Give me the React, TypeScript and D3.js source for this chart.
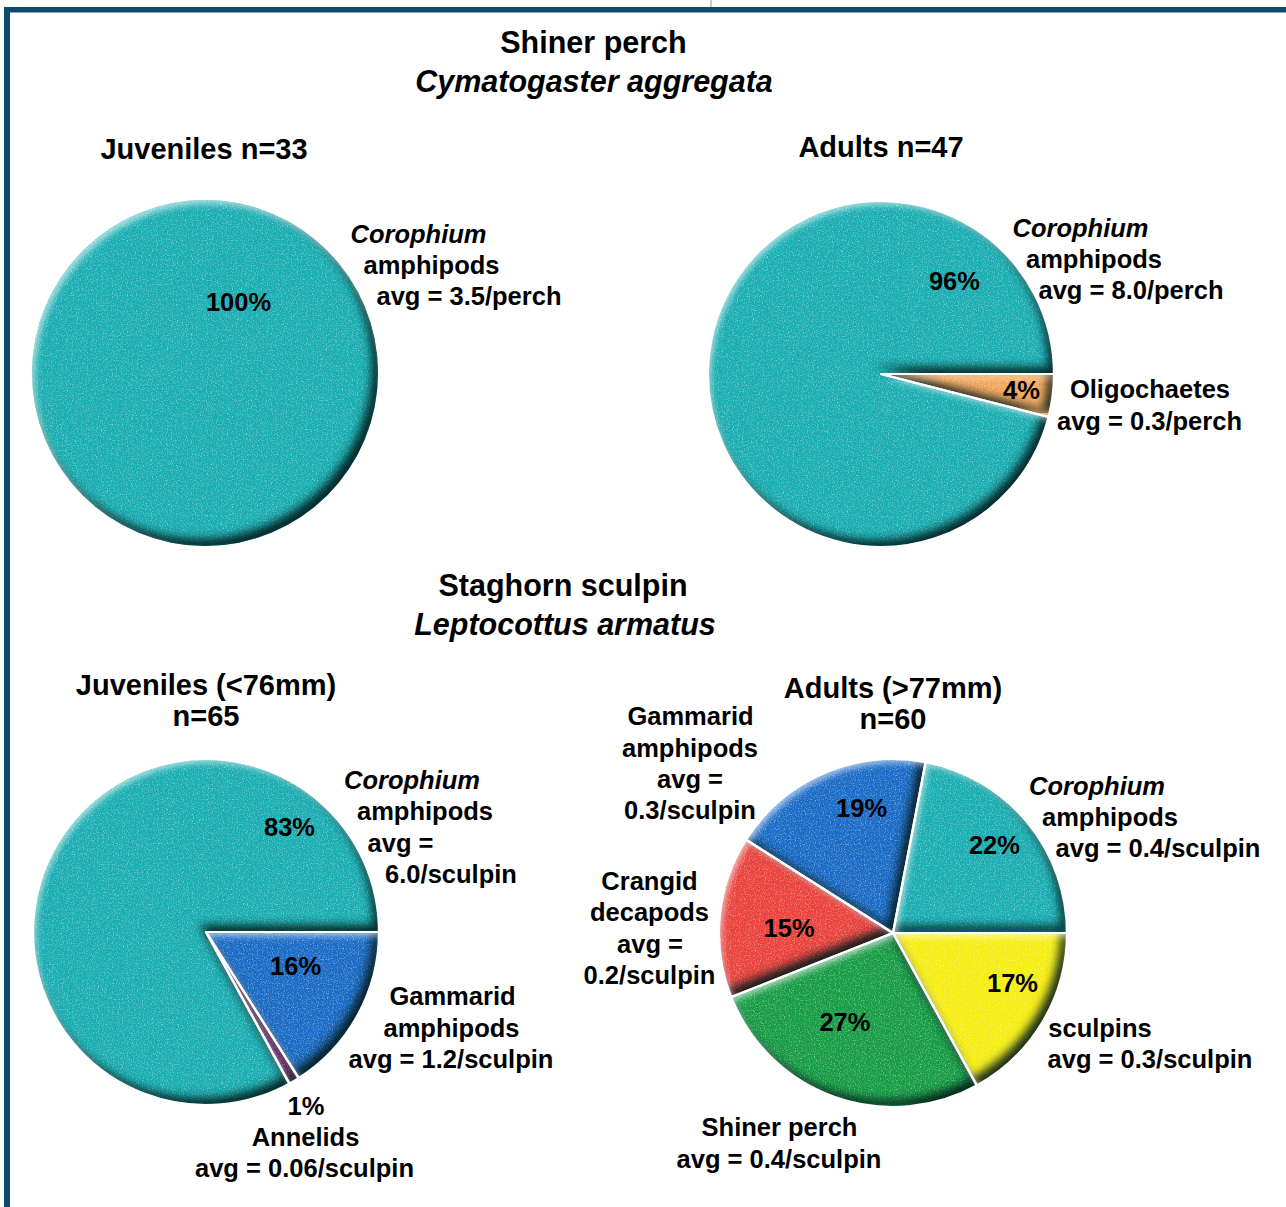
import React from "react";
import * as d3 from "d3";

// ---------- DATA ----------
const perchJuvCategories = ["Corophium amphipods"];
const perchJuvValues = [100];
const perchJuvAvg = ["3.5/perch"];

const perchAdultCategories = ["Oligochaetes", "Corophium amphipods"];
const perchAdultValues = [4, 96];
const perchAdultAvg = ["0.3/perch", "8.0/perch"];

const sculpinJuvCategories = ["Gammarid amphipods", "Annelids", "Corophium amphipods"];
const sculpinJuvValues = [16, 1, 83];
const sculpinJuvAvg = ["1.2/sculpin", "0.06/sculpin", "6.0/sculpin"];

const sculpinAdultCategories = ["sculpins", "Shiner perch", "Crangid decapods", "Gammarid amphipods", "Corophium amphipods"];
const sculpinAdultValues = [17, 27, 15, 19, 22];
const sculpinAdultAvg = ["0.3/sculpin", "0.4/sculpin", "0.2/sculpin", "0.3/sculpin", "0.4/sculpin"];

const italicWords = ["Corophium"];

// ---------- STYLE ----------
const colorByGroup: Record<string, string> = {
  Corophium: "#19adb1",
  Oligochaetes: "#f4a65a",
  Gammarid: "#1a6bc6",
  Annelids: "#7d1c74",
  sculpins: "#f6ee12",
  Shiner: "#179c45",
  Crangid: "#ea423c",
};
const FONT = "'Liberation Sans', Arial, Helvetica, sans-serif";
const LABEL_SIZE = 25.5;
const FRAME = "#0e4a6c";

// ---------- LAYOUT ----------
type LabelSpec = { idx: number; lines: string[]; pos: [number, number][] };

const charts = [
  {
    cx: 205, cy: 373, r: 173,
    categories: perchJuvCategories, values: perchJuvValues, avg: perchJuvAvg,
    title: ["Juveniles n=33"], titlePos: [[204, 159]] as [number, number][],
    pctNudge: [[153.5, -71]],
    labels: [{ idx: 0, lines: ["w0", "w1", "avgFull"], pos: [[418.5, 243], [431.5, 274], [469, 305]] }] as LabelSpec[],
  },
  {
    cx: 881, cy: 374, r: 173,
    categories: perchAdultCategories, values: perchAdultValues, avg: perchAdultAvg,
    title: ["Adults n=47"], titlePos: [[881, 157]] as [number, number][],
    pctNudge: [[21.5, 1], [192.5, -78]],
    labels: [
      { idx: 1, lines: ["w0", "w1", "avgFull"], pos: [[1080.5, 237], [1094, 268], [1131, 299]] },
      { idx: 0, lines: ["w0", "avgFull"], pos: [[1150, 398], [1149.5, 430]] },
    ] as LabelSpec[],
  },
  {
    cx: 206, cy: 932, r: 173,
    categories: sculpinJuvCategories, values: sculpinJuvValues, avg: sculpinJuvAvg,
    title: ["Juveniles (<76mm)", "n=65"], titlePos: [[206, 695], [206, 726]] as [number, number][],
    pctNudge: [[-15.6, -23.8], [38.9, 70.7], [186.8, -43.9]],
    labels: [
      { idx: 2, lines: ["w0", "w1", "avgEq", "avgVal"], pos: [[412, 789], [425, 820], [400.5, 852], [451, 883]] },
      { idx: 0, lines: ["w0", "w1", "avgFull"], pos: [[452.5, 1005], [451.5, 1037], [451, 1068]] },
      { idx: 1, lines: ["w0", "avgFull"], pos: [[305.5, 1146], [304.5, 1177]] },
    ] as LabelSpec[],
  },
  {
    cx: 893, cy: 933, r: 174,
    categories: sculpinAdultCategories, values: sculpinAdultValues, avg: sculpinAdultAvg,
    title: ["Adults (>77mm)", "n=60"], titlePos: [[893, 698], [893, 729]] as [number, number][],
    pctNudge: [[16.2, -11.1], [-7.4, -23.9], [15.5, 6.3], [16.2, -14.8], [9, -11.5]],
    labels: [
      { idx: 3, lines: ["w0", "w1", "avgEq", "avgVal"], pos: [[690.5, 725], [690, 757], [690, 788], [690, 819]] },
      { idx: 4, lines: ["w0", "w1", "avgFull"], pos: [[1097, 795], [1110, 826], [1158, 857]] },
      { idx: 2, lines: ["w0", "w1", "avgEq", "avgVal"], pos: [[649.5, 890], [649.5, 921], [650, 953], [649.5, 984]] },
      { idx: 0, lines: ["w0", "avgFull"], pos: [[1100, 1037], [1150, 1068]] },
      { idx: 1, lines: ["wAll", "avgFull"], pos: [[779.5, 1136], [779, 1168]] },
    ] as LabelSpec[],
  },
];

function lineText(mode: string, cat: string, avg: string): string {
  const words = cat.split(" ");
  if (mode === "w0") return words[0];
  if (mode === "w1") return words.slice(1).join(" ");
  if (mode === "wAll") return cat;
  if (mode === "avgFull") return `avg = ${avg}`;
  if (mode === "avgEq") return "avg =";
  if (mode === "avgVal") return avg;
  return "";
}

function Pie({ chart }: { chart: (typeof charts)[number] }) {
  const pie = d3
    .pie<number>()
    .sort(null)
    .startAngle(Math.PI / 2)
    .endAngle(Math.PI / 2 + 2 * Math.PI);
  const arcs = pie(chart.values);
  const arc = d3.arc<d3.PieArcDatum<number>>().innerRadius(0).outerRadius(chart.r);
  const labelArc = d3.arc<d3.PieArcDatum<number>>().innerRadius(120).outerRadius(120);
  const colorOf = (c: string) => colorByGroup[c.split(" ")[0]];
  return (
    <g>
      {chart.title.map((t, i) => (
        <text key={"t" + i} x={chart.titlePos[i][0]} y={chart.titlePos[i][1]} textAnchor="middle"
          fontSize={29} fontWeight="bold" fontFamily={FONT}>{t}</text>
      ))}
      <g transform={`translate(${chart.cx},${chart.cy})`}>
        {arcs.map((a, i) => (
          <path key={"s" + i} d={arc(a) || ""} fill={colorOf(chart.categories[i])} filter="url(#bevel)" />
        ))}
        {arcs.length > 1 &&
          arcs.map((a, i) => (
            <path key={"e" + i} d={arc(a) || ""} fill="none" stroke="#ffffff" strokeWidth={2.2} strokeLinejoin="round" />
          ))}
        {arcs.map((a, i) => {
          const [x, y] = labelArc.centroid(a);
          const [dx, dy] = chart.pctNudge[i];
          return (
            <text key={"p" + i} x={x + dx} y={y + dy} dy="0.35em" textAnchor="middle"
              fontSize={LABEL_SIZE} fontWeight="bold" fontFamily={FONT} fill="#000">
              {`${chart.values[i]}%`}
            </text>
          );
        })}
      </g>
      {chart.labels.map((spec, j) =>
        spec.lines.map((mode, li) => {
          const txt = lineText(mode, chart.categories[spec.idx], chart.avg[spec.idx]);
          return (
            <text key={`l${j}-${li}`} x={spec.pos[li][0]} y={spec.pos[li][1]} textAnchor="middle"
              fontSize={LABEL_SIZE} fontWeight="bold" fontFamily={FONT}
              fontStyle={italicWords.includes(txt) ? "italic" : "normal"} fill="#000">
              {txt}
            </text>
          );
        })
      )}
    </g>
  );
}

export default function App() {
  return (
    <div>
      <style>{"body{margin:0;background:#fff}"}</style>
      <svg width={1286} height={1207} viewBox="0 0 1286 1207" style={{ display: "block" }}>
        <defs>
          <filter id="bevel" x="-5%" y="-5%" width="110%" height="110%" colorInterpolationFilters="sRGB">
            <feComponentTransfer in="SourceAlpha" result="inv">
              <feFuncA type="table" tableValues="1 0" />
            </feComponentTransfer>
            <feGaussianBlur in="inv" stdDeviation="5" result="invBlur" />
            <feOffset in="invBlur" dx="-6" dy="-7" result="darkOff" />
            <feFlood floodColor="#001818" floodOpacity="0.9" result="darkC" />
            <feComposite in="darkC" in2="darkOff" operator="in" result="dark1" />
            <feComposite in="dark1" in2="SourceAlpha" operator="in" result="darkInner" />
            <feGaussianBlur in="inv" stdDeviation="3" result="invBlur2" />
            <feOffset in="invBlur2" dx="3" dy="4" result="lightOff" />
            <feFlood floodColor="#ffffff" floodOpacity="0.6" result="lightC" />
            <feComposite in="lightC" in2="lightOff" operator="in" result="light1" />
            <feComposite in="light1" in2="SourceAlpha" operator="in" result="lightInner" />
            <feTurbulence type="fractalNoise" baseFrequency="0.8" numOctaves="2" seed="4" result="noise" />
            <feColorMatrix in="noise" type="matrix"
              values="0 0 0 0 1  0 0 0 0 1  0 0 0 0 1  1.2 0 0 0 -0.58" result="grain" />
            <feComposite in="grain" in2="SourceAlpha" operator="in" result="grainIn" />
            <feMerge>
              <feMergeNode in="SourceGraphic" />
              <feMergeNode in="grainIn" />
              <feMergeNode in="darkInner" />
              <feMergeNode in="lightInner" />
            </feMerge>
          </filter>
        </defs>
        <rect x={0} y={0} width={1286} height={1207} fill="#fff" />
        {/* frame */}
        <line x1={711} y1={0} x2={711} y2={7} stroke="#a9bccb" strokeWidth={1.5} />
        <rect x={4} y={7} width={1282} height={5.5} fill={FRAME} />
        <rect x={4} y={7} width={6} height={1200} fill={FRAME} />

        {/* section titles */}
        <text x={593.5} y={53} textAnchor="middle" fontSize={30.5} fontWeight="bold" fontFamily={FONT}>Shiner perch</text>
        <text x={594} y={92} textAnchor="middle" fontSize={30.5} fontWeight="bold" fontStyle="italic" fontFamily={FONT}>Cymatogaster aggregata</text>
        <text x={563} y={596} textAnchor="middle" fontSize={30.5} fontWeight="bold" fontFamily={FONT}>Staghorn sculpin</text>
        <text x={565} y={635} textAnchor="middle" fontSize={30.5} fontWeight="bold" fontStyle="italic" fontFamily={FONT}>Leptocottus armatus</text>

        {charts.map((c, k) => (
          <Pie key={k} chart={c} />
        ))}
      </svg>
    </div>
  );
}
